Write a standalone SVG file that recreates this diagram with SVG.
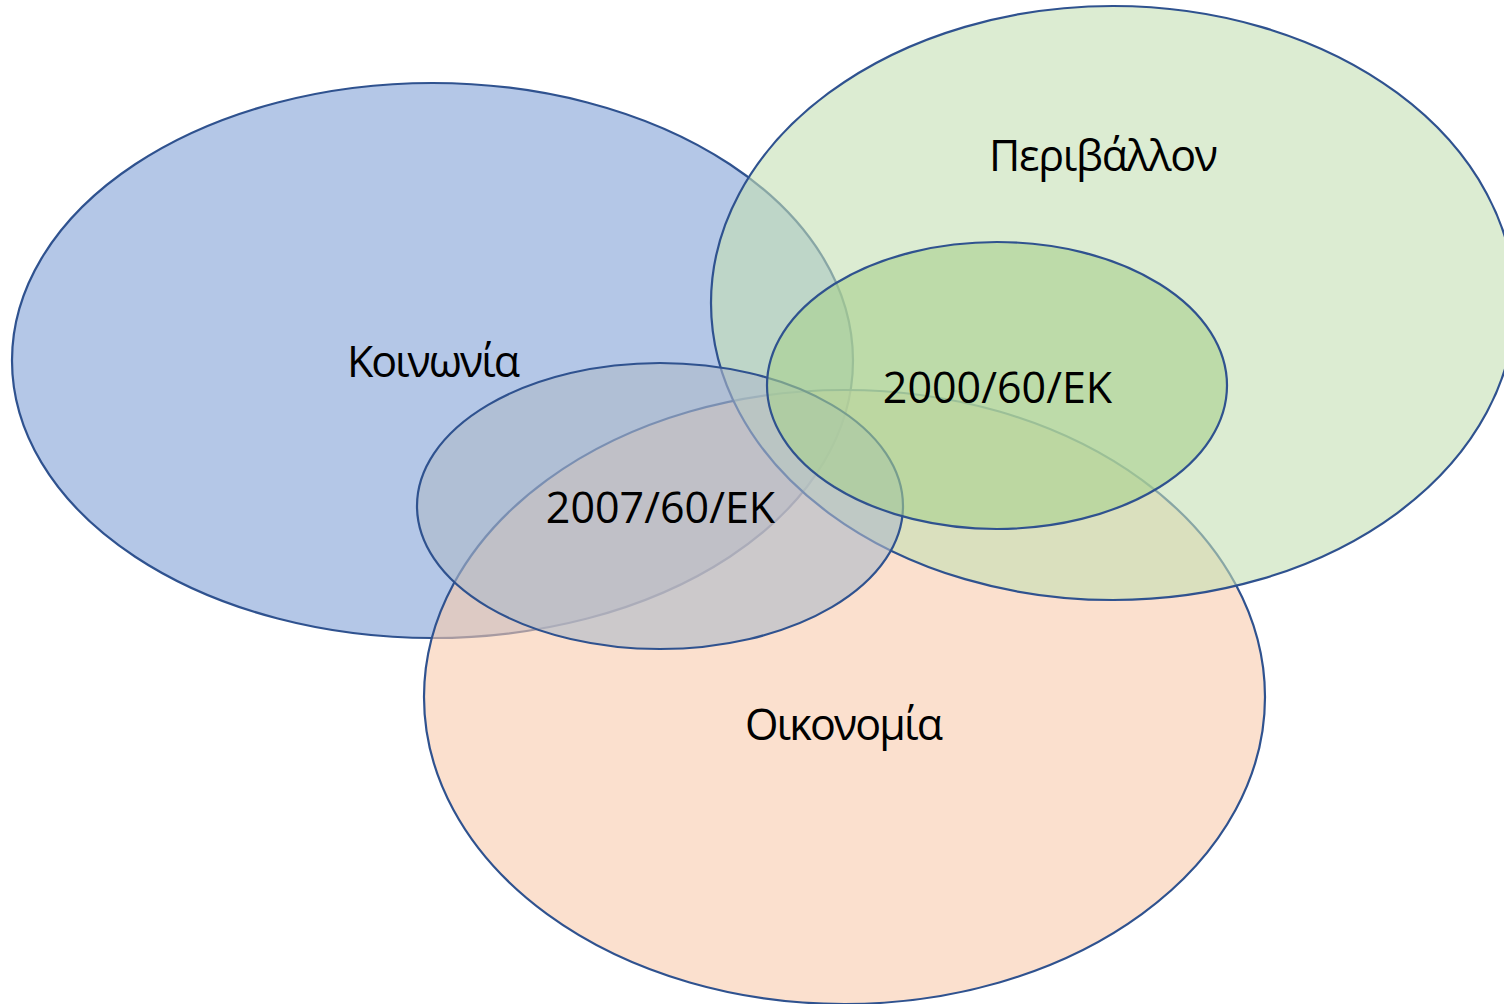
<svg xmlns="http://www.w3.org/2000/svg" width="1504" height="1004" viewBox="0 0 1504 1004">
<style>
.sh{stroke:#2F528F;stroke-width:2.2}
.lbl{font-family:"Open Sans","Noto Sans","Liberation Sans",sans-serif;font-size:43px;fill:#000;text-anchor:middle}
</style>
<rect width="1504" height="1004" fill="#FFFFFF"/>
<g id="koinonia">
<ellipse class="sh" cx="432.5" cy="360.5" rx="420.5" ry="277.5" fill="#B4C7E7"/>
</g>
<g id="oikonomia">
<ellipse class="sh" cx="844.5" cy="697" rx="420.5" ry="307" fill="#F8CBAD" fill-opacity="0.6"/>
</g>
<g id="perivallon">
<ellipse class="sh" cx="1113" cy="303" rx="402" ry="297" fill="#C5E0B4" fill-opacity="0.6"/>
</g>
<g id="d2007">
<ellipse class="sh" cx="660" cy="506" rx="243" ry="143" fill="#ADB9CA" fill-opacity="0.6"/>
</g>
<g id="d2000">
<ellipse class="sh" cx="997" cy="385.5" rx="230" ry="143.5" fill="#A9D18E" fill-opacity="0.6"/>
</g>
<g id="labels">
<text class="lbl" x="433.5" y="376.5" textLength="173">Κοινωνία</text>
<text class="lbl" x="1103.5" y="170.5" textLength="229">Περιβάλλον</text>
<text class="lbl" x="844" y="740" textLength="198">Οικονομία</text>
<text class="lbl" x="997.5" y="402.5">2000/60/ΕΚ</text>
<text class="lbl" x="660.5" y="522.5">2007/60/ΕΚ</text>
</g>
<g id="connectors"/>
</svg>
